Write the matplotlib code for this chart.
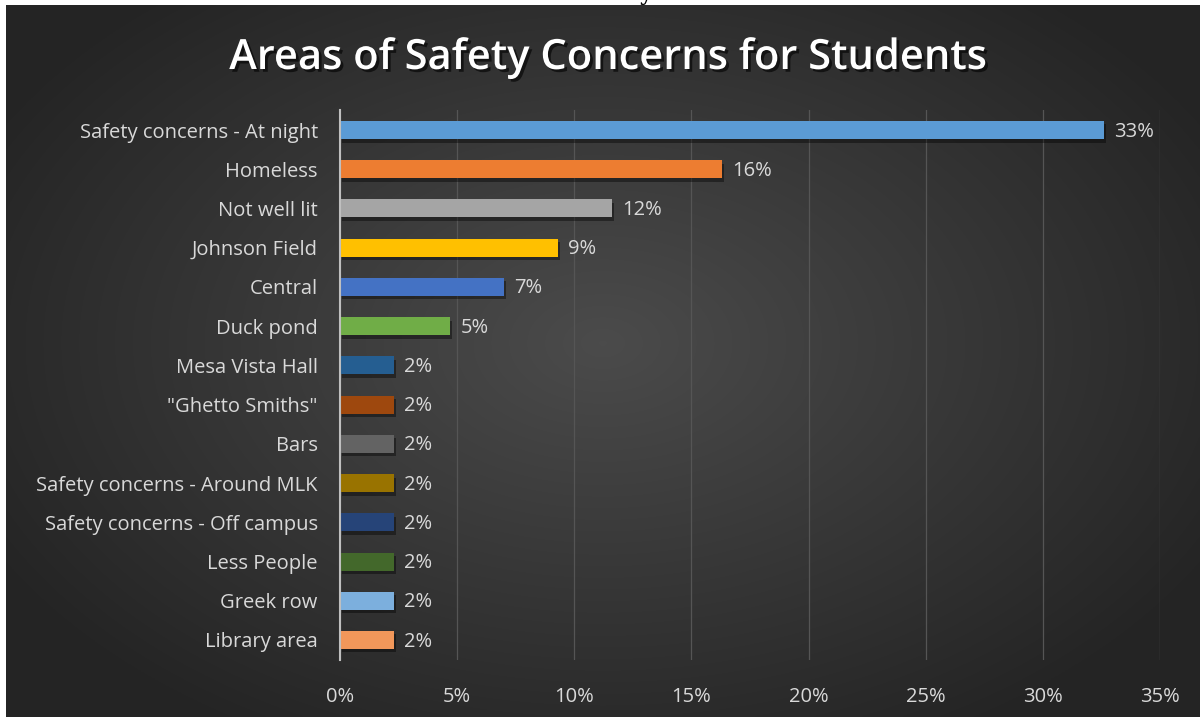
import matplotlib.pyplot as plt
import matplotlib.patheffects as pe
import numpy as np

# chart data (share of responses)
categories = ["Safety concerns - At night", "Homeless", "Not well lit", "Johnson Field",
              "Central", "Duck pond", "Mesa Vista Hall", "\"Ghetto Smiths\"", "Bars",
              "Safety concerns - Around MLK", "Safety concerns - Off campus",
              "Less People", "Greek row", "Library area"]
values = [0.326, 0.163, 0.116, 0.093, 0.070, 0.047, 0.023, 0.023, 0.023,
          0.023, 0.023, 0.023, 0.023, 0.023]
bar_colors = ["#5B9BD5", "#ED7D31", "#A5A5A5", "#FFC000", "#4472C4", "#70AD47",
              "#255E91", "#9E480E", "#636363", "#997300", "#264478", "#43682B",
              "#7CAFDD", "#F1975A"]
xticks = [0, 0.05, 0.10, 0.15, 0.20, 0.25, 0.30, 0.35]

W, H = 1200, 717
fig = plt.figure(figsize=(12, 7.17), dpi=100, facecolor="white")
plt.rcParams['font.family'] = ['Open Sans', 'DejaVu Sans']

# dark radial background
bg = fig.add_axes([6 / W, 0, 1 - 6 / W, 1 - 5 / H], zorder=0)
gx, gy = np.meshgrid(np.linspace(-1, 1, 600), np.linspace(-1, 1, 360))
r = np.sqrt((gx / 1.15) ** 2 + ((gy + 0.05) / 1.25) ** 2)
shade = 0.295 - 0.15 * np.clip(r, 0, 1)
rgb = np.dstack([shade, shade, shade])
bg.imshow(rgb, aspect="auto", extent=[0, 1, 0, 1], interpolation="bilinear")
bg.axis("off")

# cut-off text fragment at the very top
fig.text(647 / W, 1.0, "y", family="DejaVu Serif", fontsize=17, color="black",
         ha="center", va="baseline", zorder=5)

ax = fig.add_axes([340 / W, 1 - 659.6 / H, 820 / W, (659.6 - 110.4) / H], zorder=1)
ax.patch.set_alpha(0)
y = np.arange(len(categories))
bars = ax.barh(y, values, height=0.46, color=bar_colors, zorder=3)
for b in bars:
    b.set_path_effects([pe.SimplePatchShadow(offset=(1.5, -2.5), shadow_rgbFace="black", alpha=0.4),
                        pe.Normal()])
ax.set_ylim(len(categories) - 0.5, -0.5)
ax.set_xlim(0, 0.35)
ax.set_yticks(y)
ax.set_yticklabels(categories, fontsize=14.5, color="#d9d9d9")
ax.set_xticks(xticks)
ax.set_xticklabels([f"{int(round(t * 100))}%" for t in xticks], fontsize=14.5, color="#d9d9d9")
ax.tick_params(axis="both", length=0)
ax.tick_params(axis="y", pad=16)
ax.tick_params(axis="x", pad=20)
ax.grid(axis="x", color="#555555", linewidth=0.9, zorder=0)
for s in ["top", "right", "bottom"]:
    ax.spines[s].set_visible(False)
ax.spines["left"].set_color("#bfbfbf")
ax.spines["left"].set_linewidth(1.5)
ax.spines["left"].set_zorder(4)

for yi, v in zip(y, values):
    ax.text(v + 0.0045, yi + 0.04, f"{v * 100:.0f}%", va="center", ha="left",
            fontsize=14.5, color="#d9d9d9")

fig.text(608 / W, 1 - 58 / H, "Areas of Safety Concerns for Students", ha="center",
         va="center", fontsize=30, fontweight="semibold", color="white",
         path_effects=[pe.withSimplePatchShadow(offset=(2, -2), shadow_rgbFace="black", alpha=0.6)])

fig.savefig("out.png", dpi=100, facecolor=fig.get_facecolor())
